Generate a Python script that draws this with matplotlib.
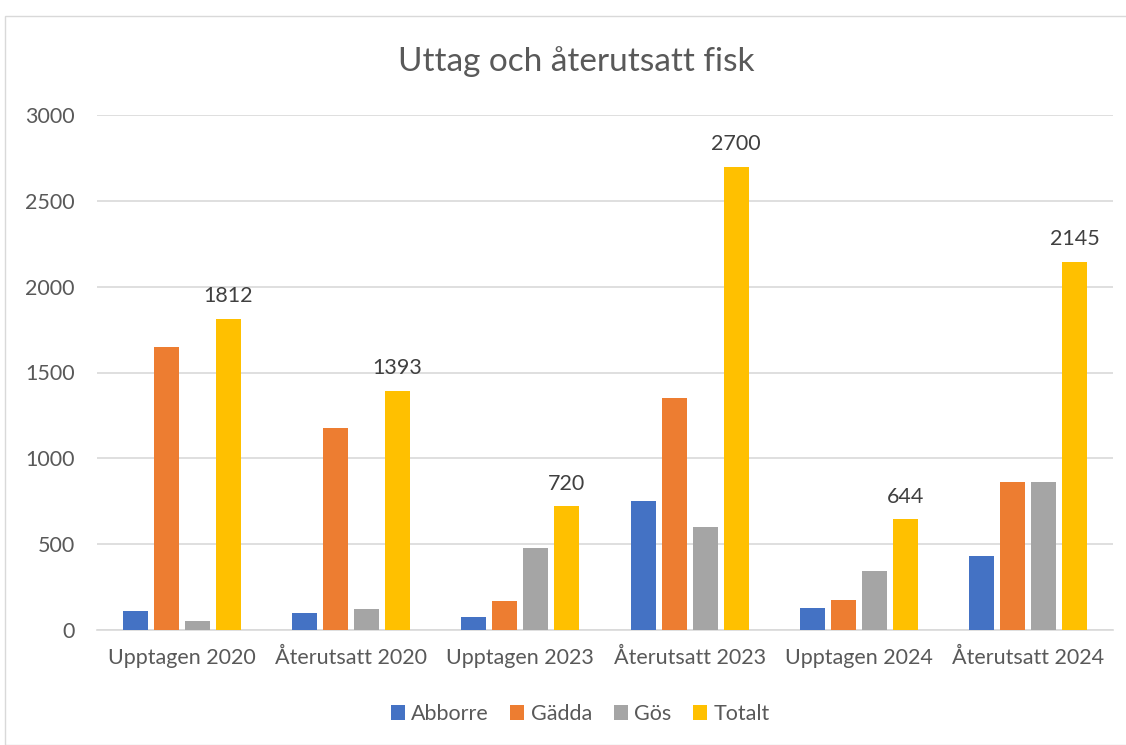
import matplotlib
matplotlib.use("Agg")
import matplotlib.pyplot as plt
import numpy as np
from matplotlib.patches import Rectangle

categories = ["Upptagen 2020", "Återutsatt 2020", "Upptagen 2023",
              "Återutsatt 2023", "Upptagen 2024", "Återutsatt 2024"]
abborre = [110, 100, 75, 750, 130, 430]
gadda = [1650, 1175, 170, 1350, 175, 860]
gos = [50, 120, 480, 600, 345, 860]
totalt = [1812, 1393, 720, 2700, 644, 2145]
series_names = ["Abborre", "Gädda", "Gös", "Totalt"]
colors = ["#4472C4", "#ED7D31", "#A5A5A5", "#FFC000"]
yticks = [0, 500, 1000, 1500, 2000, 2500, 3000]

plt.rcParams['font.family'] = ['Lato', 'DejaVu Sans']
txt = "#595959"

fig = plt.figure(figsize=(11.26, 7.45), dpi=100)
W, H = 1126, 745
fig.patches.append(Rectangle((5 / W, 0), 1.2, (H - 16) / H, transform=fig.transFigure,
                             fill=False, edgecolor="#D9D9D9", linewidth=1))
ax = fig.add_axes([97 / W, 1 - 630 / H, (1113 - 97) / W, (630 - 115) / H])

x = np.arange(len(categories))
pitch = 0.183
bw = 0.148
data = [abborre, gadda, gos, totalt]
for i, (vals, c, n) in enumerate(zip(data, colors, series_names)):
    off = (i - 1.5) * pitch
    bars = ax.bar(x + off, vals, width=bw, color=c, label=n, zorder=3)
    if n == "Totalt":
        for xi, v in zip(x + off, vals):
            ax.annotate(str(v), (xi, v), xytext=(0, 9), textcoords="offset points",
                        ha="center", va="bottom", fontsize=15.5, color="#404040")

ax.set_xlim(-0.5, len(categories) - 0.5)
ax.set_ylim(0, 3000)
ax.set_yticks(yticks)
ax.set_yticklabels([str(t) for t in yticks])
ax.set_xticks(x)
ax.set_xticklabels(categories)
ax.tick_params(axis="both", length=0, labelsize=15.5, labelcolor=txt)
ax.tick_params(axis="y", pad=16)
ax.tick_params(axis="x", pad=13)
ax.grid(axis="y", color="#D9D9D9", linewidth=1.2, zorder=0)
for s in ["top", "right", "left"]:
    ax.spines[s].set_visible(False)
ax.spines["bottom"].set_color("#D9D9D9")
ax.spines["bottom"].set_linewidth(1.2)

fig.text(576 / W, 1 - 62 / H, "Uttag och återutsatt fisk", ha="center", va="center",
         fontsize=24, color=txt)

handles, labels = ax.get_legend_handles_labels()
fig.legend(handles, labels, loc="center", bbox_to_anchor=(580 / W, 1 - 714 / H),
           ncol=4, frameon=False, fontsize=15.5, labelcolor=txt,
           handlelength=0.65, handleheight=0.65, handletextpad=0.3, columnspacing=1.0)

fig.savefig("out.png", dpi=100)
